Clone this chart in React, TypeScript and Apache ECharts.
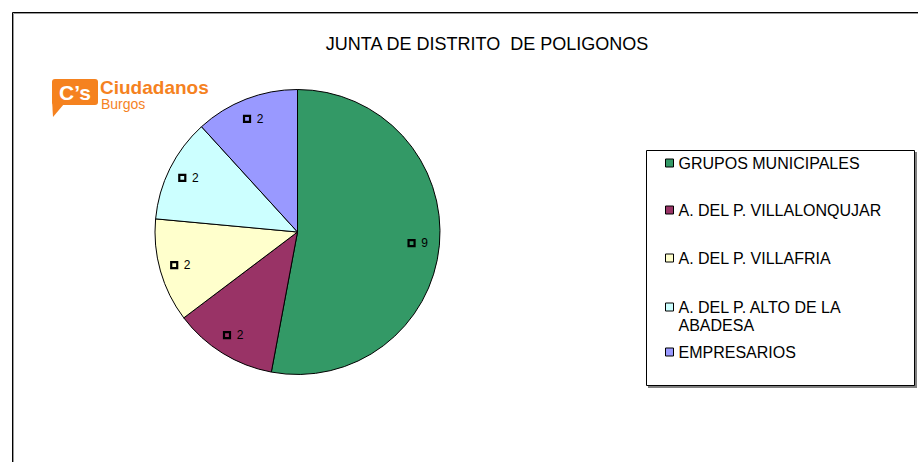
import React, { useEffect, useRef } from 'react';
import * as echarts from 'echarts';

const titleText = 'JUNTA DE DISTRITO  DE POLIGONOS';
const categories = [
  'GRUPOS MUNICIPALES',
  'A. DEL P. VILLALONQUJAR',
  'A. DEL P. VILLAFRIA',
  'A. DEL P. ALTO DE LA ABADESA',
  'EMPRESARIOS',
];
const legendLabels = [
  'GRUPOS MUNICIPALES',
  'A. DEL P. VILLALONQUJAR',
  'A. DEL P. VILLAFRIA',
  '\nA. DEL P. ALTO DE LA\nABADESA',
  'EMPRESARIOS',
];
const values = [9, 2, 2, 2, 2];
const colors = ['#339966', '#993366', '#FFFFCC', '#CCFFFF', '#9999FF'];

const FONT = '"Liberation Sans", Arial, sans-serif';
const ORANGE = '#F5821F';

export default function App() {
  const ref = useRef<HTMLDivElement>(null);

  useEffect(() => {
    if (!ref.current) return;
    const chart = echarts.init(ref.current, null, { renderer: 'svg' });

    const data = categories.map((name, i) => ({
      name,
      value: values[i],
      itemStyle: { color: colors[i] },
    }));

    const legendTops = [154, 201, 249, 280, 343];
    const legends = categories.map((name, i) => ({
      show: true,
      orient: 'vertical',
      left: 665,
      top: legendTops[i],
      padding: 0,
      data: [name],
      icon: 'rect',
      itemWidth: 8,
      itemHeight: 8,
      itemStyle: { borderColor: '#000', borderWidth: 1 },
      selectedMode: false,
      formatter: () => legendLabels[i],
      textStyle: {
        fontFamily: FONT,
        fontSize: 16,
        color: '#000',
        lineHeight: 18,
      },
    }));

    chart.setOption({
      animation: false,
      backgroundColor: '#fff',
      legend: legends,
      graphic: [
        // outer frame
        { type: 'rect', shape: { x: 12.5, y: 12.5, width: 1000, height: 1000 }, style: { fill: 'none', stroke: '#000', lineWidth: 1 }, silent: true },
        { type: 'rect', shape: { x: 13.5, y: 13.5, width: 1000, height: 1000 }, style: { fill: 'none', stroke: '#9a9a9a', lineWidth: 1 }, silent: true },
        // legend box with shadow
        { type: 'rect', shape: { x: 648, y: 152, width: 269, height: 236 }, style: { fill: '#808080', stroke: 'none' }, silent: true, z: -1 },
        { type: 'rect', shape: { x: 646.5, y: 150.5, width: 268, height: 235 }, style: { fill: '#fff', stroke: '#000', lineWidth: 1 }, silent: true, z: 0 },
        // title
        {
          type: 'text', x: 487, y: 44, silent: true,
          style: { text: titleText, fill: '#000', font: `18px ${FONT}`, align: 'center', verticalAlign: 'middle' },
        },
        // logo
        {
          type: 'group', silent: true,
          children: [
            { type: 'rect', shape: { x: 52, y: 79, width: 46, height: 26, r: 3 }, style: { fill: ORANGE } },
            { type: 'polygon', shape: { points: [[52, 100], [53, 117], [64, 104]] }, style: { fill: ORANGE } },
            { type: 'text', x: 75, y: 92, style: { text: 'C\u2019s', fill: '#fff', font: `bold 21px ${FONT}`, align: 'center', verticalAlign: 'middle' } },
            { type: 'text', x: 100, y: 87, style: { text: 'Ciudadanos', fill: ORANGE, font: `bold 19px ${FONT}`, align: 'left', verticalAlign: 'middle' } },
            { type: 'text', x: 101, y: 104, style: { text: 'Burgos', fill: ORANGE, font: `14px ${FONT}`, align: 'left', verticalAlign: 'middle' } },
          ],
        },
      ],
      series: [
        {
          type: 'pie',
          center: [297.5, 232],
          radius: [0, 142.5],
          startAngle: 90,
          clockwise: true,
          data,
          itemStyle: { borderColor: '#000', borderWidth: 1 },
          label: { show: false },
          labelLine: { show: false },
          emphasis: { disabled: true },
          silent: true,
        },
        {
          type: 'pie',
          center: [297.5, 232],
          radius: [94, 142.5],
          startAngle: 90,
          clockwise: true,
          data: categories.map((name, i) => ({ name, value: values[i] })),
          itemStyle: { color: 'rgba(0,0,0,0)', borderWidth: 0 },
          labelLine: { show: false },
          emphasis: { disabled: true },
          silent: true,
          label: {
            show: true,
            position: 'inside',
            formatter: (p: any) => `{sq|}  {v|${p.value}}`,
            rich: {
              sq: { width: 6, height: 6, borderColor: '#000', borderWidth: 1.1, backgroundColor: 'rgba(0,0,0,0)' },
              v: { fontFamily: FONT, fontSize: 12, color: '#000' },
            },
          },
        },
      ],
    });

    return () => chart.dispose();
  }, []);

  return (
    <div
      ref={ref}
      style={{ position: 'absolute', left: 0, top: 0, width: 918, height: 462 }}
    />
  );
}
